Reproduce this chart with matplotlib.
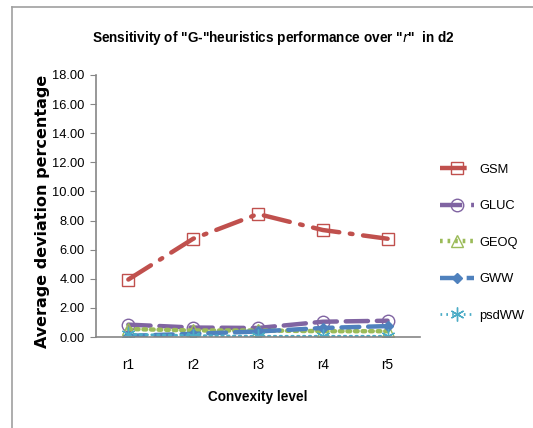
import matplotlib.pyplot as plt
from matplotlib.lines import Line2D

# convexity levels and average deviation (%) per heuristic
levels = ["r1", "r2", "r3", "r4", "r5"]
gsm = [3.95, 6.75, 8.45, 7.35, 6.75]
gluc = [0.85, 0.65, 0.62, 1.05, 1.12]
geoq = [0.55, 0.45, 0.45, 0.40, 0.40]
gww = [0.08, 0.22, 0.38, 0.62, 0.75]
psdww = [0.18, 0.10, 0.05, 0.05, 0.05]

plt.rcParams['font.family'] = ['Liberation Sans', 'DejaVu Sans']

fig = plt.figure(figsize=(5.33, 4.28), dpi=100)
ax = fig.add_axes([0.180, 0.2126, 0.608, 0.6122])

x = list(range(len(levels)))
styles = [
    ("GSM", gsm, "#C0504D", (0, (6, 2.4, 0.6, 2.4)), "s", "none", 9),
    ("GLUC", gluc, "#8064A2", (0, (5, 2)), "o", "none", 9),
    ("GEOQ", geoq, "#9BBB59", (0, (0.6, 1.1)), "^", "none", 9),
    ("GWW", gww, "#4F81BD", (0, (4, 2)), "D", "#4F81BD", 5),
    ("psdWW", psdww, "#4BACC6", (0, (0.6, 1.5)), (6, 2, 0), "none", 10),
]
handles = []
for name, vals, col, ls, mk, mfc, ms in styles:
    lw = 2.0 if name == "psdWW" else 3.2
    ax.plot(x, vals, color=col, linestyle=ls, linewidth=lw, marker=mk,
            markerfacecolor=mfc, markeredgecolor=col, markersize=ms,
            markeredgewidth=1.0, dash_capstyle="round")
    handles.append(Line2D([], [], color=col, linestyle=ls, linewidth=lw, marker=mk,
                          markerfacecolor=mfc, markeredgecolor=col, markersize=ms,
                          markeredgewidth=1.0, label=name))

ax.set_xlim(-0.5, 4.5)
ax.set_ylim(0, 18)
ax.set_yticks(range(0, 19, 2))
ax.set_yticklabels([f"{v:.2f}" for v in range(0, 19, 2)])
ax.set_xticks(x)
ax.set_xticklabels(levels)
ax.tick_params(axis="y", length=4, color="#868686", labelsize=9.3, pad=4)
ax.tick_params(axis="x", length=0, labelsize=9.8, pad=15)
for s in ["top", "right"]:
    ax.spines[s].set_visible(False)
for s in ["left", "bottom"]:
    ax.spines[s].set_color("#868686")
    ax.spines[s].set_linewidth(1.2)

ax.set_xlabel("Convexity level", fontsize=9.8, fontweight="bold", labelpad=13)
fig.text(0.079, 0.505, "Average deviation percentage", rotation=90, fontsize=11.5,
         fontweight="bold", family="DejaVu Sans", ha="center", va="center")
fig.text(0.514, 0.911, 'Sensitivity of "G-"heuristics performance over "$\\mathit{r}$"  in d2',
         fontsize=9.8, fontweight="bold", ha="center", va="center")

fig.legend(handles=handles, loc="upper left", bbox_to_anchor=(0.804, 0.645),
           frameon=False, fontsize=9.3, handlelength=2.6, labelspacing=1.9,
           handletextpad=0.4)

# chart frame lines
fig.add_artist(Line2D([0.0225, 1.0], [0.984, 0.984], color="#A0A0A0", linewidth=1.2))
fig.add_artist(Line2D([0.0225, 0.0225], [0.0, 0.984], color="#A0A0A0", linewidth=1.2))

fig.savefig("out.png", dpi=100)
